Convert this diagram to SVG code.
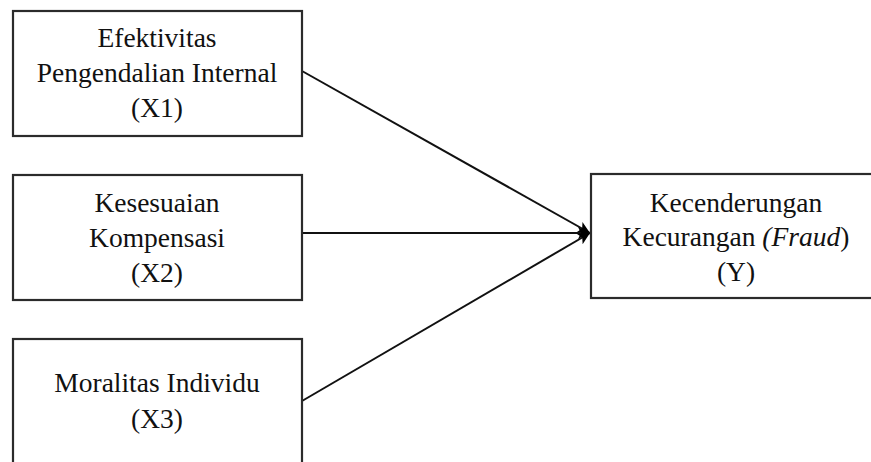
<svg xmlns="http://www.w3.org/2000/svg" width="871" height="462" viewBox="0 0 871 462">
<style>
.box{fill:#fff;stroke:#2b2b2b;stroke-width:2.2}
.t{font-family:"Liberation Serif","Times New Roman",serif;font-size:27.5px;fill:#111;text-anchor:middle}
.c{stroke:#111;stroke-width:2;fill:none}
</style>
<defs>
<marker id="ah" markerUnits="userSpaceOnUse" markerWidth="14" markerHeight="14" refX="12" refY="7" orient="auto">
<path d="M0,1 L12,7 L0,13 L3,7 z" fill="#000"/>
</marker>
</defs>
<rect width="871" height="462" fill="#fff"/>
<g id="connectors">
<line class="c" x1="302" y1="71" x2="590" y2="233" marker-end="url(#ah)"/>
<line class="c" x1="302" y1="233" x2="590" y2="233" marker-end="url(#ah)"/>
<line class="c" x1="302" y1="401" x2="590" y2="233" marker-end="url(#ah)"/>
</g>
<g id="x1">
<rect class="box" x="13" y="11" width="289" height="125"/>
<text class="t" x="157" y="47">Efektivitas</text>
<text class="t" x="157" y="82">Pengendalian Internal</text>
<text class="t" x="157" y="117">(X1)</text>
</g>
<g id="x2">
<rect class="box" x="13" y="175" width="289" height="125"/>
<text class="t" x="157" y="212">Kesesuaian</text>
<text class="t" x="157" y="247">Kompensasi</text>
<text class="t" x="157" y="282">(X2)</text>
</g>
<g id="x3">
<rect class="box" x="13" y="339" width="289" height="130"/>
<text class="t" x="157" y="392">Moralitas Individu</text>
<text class="t" x="157" y="428">(X3)</text>
</g>
<g id="y">
<rect class="box" x="591" y="174" width="290" height="124"/>
<text class="t" x="736" y="212">Kecenderungan</text>
<text class="t" x="736" y="246">Kecurangan <tspan font-style="italic">(Fraud</tspan>)</text>
<text class="t" x="736" y="281">(Y)</text>
</g>
</svg>
